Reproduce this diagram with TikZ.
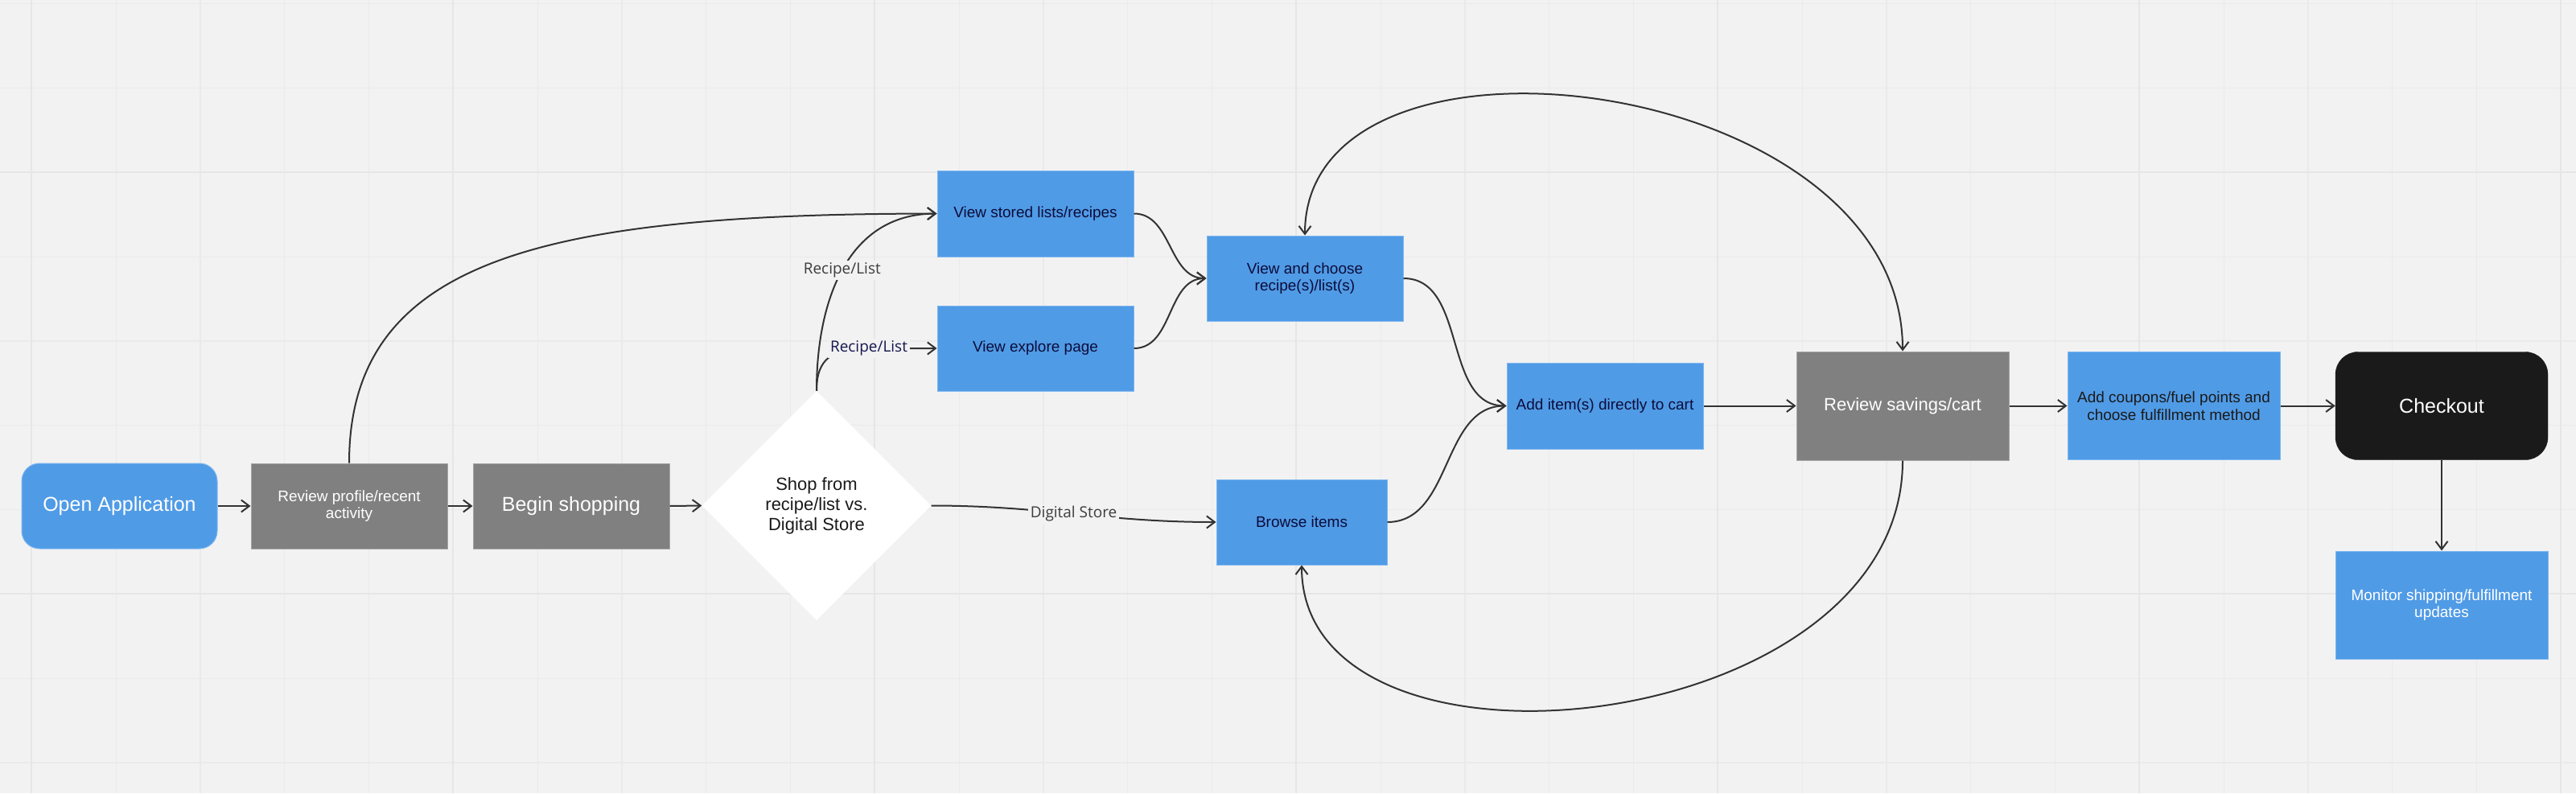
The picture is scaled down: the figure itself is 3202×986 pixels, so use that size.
\documentclass[tikz,border=0pt]{standalone}
\usepackage{fontspec}
\setmainfont{Liberation Sans}
\newfontfamily\lblfont{Open Sans}
\usetikzlibrary{arrows.meta,shapes.geometric}
\definecolor{bg}{RGB}{242,242,242}
\definecolor{gridc}{RGB}{234,234,234}
\definecolor{gridm}{RGB}{230,230,230}
\definecolor{mblue}{RGB}{80,155,230}
\definecolor{mblueb}{RGB}{125,182,240}
\definecolor{mgray}{RGB}{128,128,128}
\definecolor{mgrayb}{RGB}{165,165,165}
\definecolor{mblack}{RGB}{26,26,26}
\definecolor{navy}{RGB}{12,12,58}
\definecolor{lnavy}{RGB}{22,22,82}
\definecolor{lgray}{RGB}{60,60,60}
\definecolor{linec}{RGB}{51,51,51}
\begin{document}
\begin{tikzpicture}[x=1pt,y=-1pt,
  box/.style={rectangle, inner sep=0pt, align=center, font=\fontsize{19pt}{21.7pt}\selectfont},
  bluebox/.style={box, fill=mblue, draw=mblueb, line width=1pt, text=navy},
  graybox/.style={box, fill=mgray, draw=mgrayb, line width=1pt, text=white},
  bigtext/.style={font=\fontsize{25pt}{28pt}\selectfont},
  midtext/.style={font=\fontsize{22pt}{25pt}\selectfont},
  arr/.style={draw=linec, line width=2pt, -{Straight Barb[length=10pt,width=15pt]}},
  lbl/.style={fill=bg, inner sep=3pt, font=\lblfont\fontsize{19pt}{22pt}\selectfont},
]
\useasboundingbox (0,0) rectangle (3202,986);
\fill[bg] (0,0) rectangle (3202,986);
% grid
\foreach \i in {0,...,30} { \draw[gridc, line width=1.2pt] ({39.4+104.8*\i},0) -- ({39.4+104.8*\i},986); }
\foreach \j in {0,...,9} { \draw[gridc, line width=1.2pt] (0,{4.7+104.8*\j}) -- (3202,{4.7+104.8*\j}); }
\foreach \i in {0,...,6} { \draw[gridm, line width=2pt] ({39.4+524*\i},0) -- ({39.4+524*\i},986); }
\foreach \y in {214.3,738.3} { \draw[gridm, line width=2pt] (0,\y) -- (3202,\y); }

% nodes
\node[bluebox, rounded corners=22pt, text=white, bigtext, minimum width=243pt, minimum height=106pt] (open) at (148.5,629) {Open Application};
\node[graybox, minimum width=244pt, minimum height=106pt] (profile) at (434,629) {Review profile/recent\\activity};
\node[graybox, bigtext, minimum width=244pt, minimum height=106pt] (begin) at (710,629) {Begin shopping};
\node[diamond, aspect=1, fill=white, inner sep=0pt, minimum width=285pt, minimum height=285pt, align=center, text=mblack, midtext] (dia) at (1015,628.5) {Shop from\\recipe/list vs.\\Digital Store};
\node[bluebox, minimum width=244pt, minimum height=107pt] (stored) at (1287,265.5) {View stored lists/recipes};
\node[bluebox, minimum width=244pt, minimum height=106pt] (explore) at (1287,433) {View explore page};
\node[bluebox, minimum width=244pt, minimum height=106pt] (choose) at (1622,346) {View and choose\\recipe(s)/list(s)};
\node[bluebox, minimum width=212pt, minimum height=106pt] (browse) at (1618,649) {Browse items};
\node[bluebox, minimum width=244pt, minimum height=107pt] (add) at (1995,504.5) {Add item(s) directly to cart};
\node[graybox, midtext, minimum width=264pt, minimum height=135pt] (review) at (2365,504.5) {Review savings/cart};
\node[bluebox, text=mblack, minimum width=264pt, minimum height=134pt] (coupons) at (2702,504.5) {Add coupons/fuel points and\\choose fulfillment method};
\node[box, fill=mblack, draw=mblack, rounded corners=28pt, text=white, bigtext, minimum width=264pt, minimum height=134pt] (checkout) at (3035,504.5) {Checkout};
\node[bluebox, text=white, minimum width=264pt, minimum height=134pt] (monitor) at (3035,752) {Monitor shipping/fulfillment\\updates};

% connectors
\draw[arr] (open.east) -- (profile.west);
\draw[arr] (profile.east) -- (begin.west);
\draw[arr] (begin.east) -- (dia.west);
\draw[arr] (profile.north) .. controls (434,320) and (680,266) .. (stored.west);
\draw[arr] (dia.north) .. controls (1015,380) and (1050,266) .. (stored.west) node[lbl, text=lgray, pos=0.5] (l1) {Recipe/List};
\draw[arr] (dia.north) .. controls (1015,445) and (1035,433) .. (1080,433) -- (explore.west) node[lbl, text=lnavy, pos=0] (l2) {Recipe/List};
\draw[arr] (dia.east) to[out=0,in=180] node[lbl, text=lgray] (l3) {Digital Store} (browse.west);
\draw[arr] (stored.east) to[out=0,in=180] (choose.west);
\draw[arr] (explore.east) to[out=0,in=180] (choose.west);
\draw[arr] (choose.east) to[out=0,in=180] (add.west);
\draw[arr] (browse.east) to[out=0,in=180] (add.west);
\draw[arr] (add.east) -- (review.west);
\draw[arr] (review.east) -- (coupons.west);
\draw[arr] (coupons.east) -- (checkout.west);
\draw[arr] (checkout.south) -- (monitor.north);
\draw[arr, {Straight Barb[length=10pt,width=15pt]}-{Straight Barb[length=10pt,width=15pt]}] (choose.north) .. controls (1622,0) and (2365,90) .. (review.north);
\draw[arr] (review.south) .. controls (2365,919) and (1618,995) .. (browse.south);
\end{tikzpicture}
\end{document}
